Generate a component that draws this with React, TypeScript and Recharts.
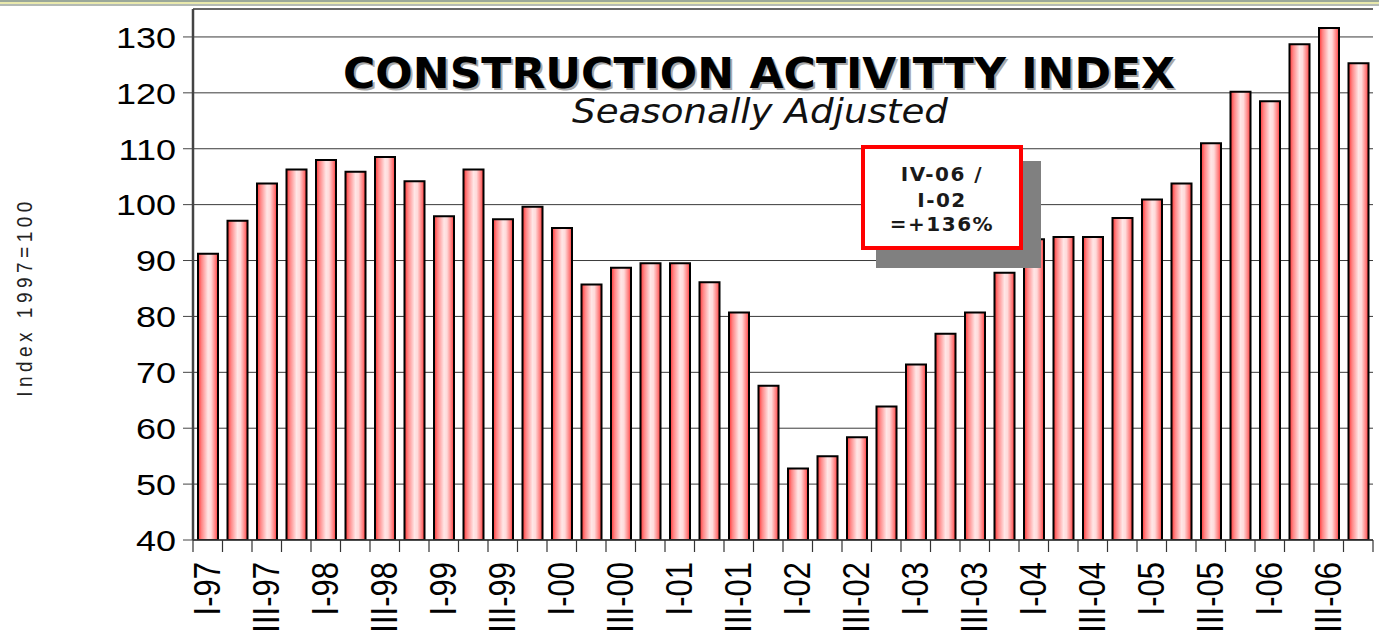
import { Bar, BarChart, CartesianGrid, ReferenceLine, XAxis, YAxis } from 'recharts';

const quarters = [
  'I-97', 'II-97', 'III-97', 'IV-97',
  'I-98', 'II-98', 'III-98', 'IV-98',
  'I-99', 'II-99', 'III-99', 'IV-99',
  'I-00', 'II-00', 'III-00', 'IV-00',
  'I-01', 'II-01', 'III-01', 'IV-01',
  'I-02', 'II-02', 'III-02', 'IV-02',
  'I-03', 'II-03', 'III-03', 'IV-03',
  'I-04', 'II-04', 'III-04', 'IV-04',
  'I-05', 'II-05', 'III-05', 'IV-05',
  'I-06', 'II-06', 'III-06', 'IV-06',
];

const activityIndex = [
  91.2, 97.1, 103.8, 106.3,
  108.0, 105.9, 108.5, 104.2,
  97.9, 106.3, 97.4, 99.6,
  95.8, 85.7, 88.7, 89.5,
  89.5, 86.1, 80.7, 67.6,
  52.8, 55.0, 58.4, 63.9,
  71.4, 76.9, 80.7, 87.8,
  93.8, 94.2, 94.2, 97.6,
  100.9, 103.8, 111.0, 120.2,
  118.5, 128.7, 131.6, 125.3,
];

const yTicks = [40, 50, 60, 70, 80, 90, 100, 110, 120, 130];

const calloutLines = ['IV-06 /', 'I-02', '=+136%'];

const data = quarters.map((quarter, i) => ({ quarter, value: activityIndex[i] }));

const W = 1379;
const H = 639;
const PLOT_LEFT = 193;
const PLOT_RIGHT = 1373;
const HALF_BAND = (PLOT_RIGHT - PLOT_LEFT) / quarters.length / 2;
const SANS = "'Liberation Sans', Arial, sans-serif";
const VERDANA = "'DejaVu Sans', Verdana, sans-serif";

function QuarterTick(props: any) {
  const { x, y, payload, index } = props;
  const q: string = payload.value;
  const showLabel = q.startsWith('I-') || q.startsWith('III-');
  const last = index === quarters.length - 1;
  return (
    <g>
      <line x1={x - HALF_BAND} x2={x - HALF_BAND} y1={y} y2={y + 12} stroke="#333" strokeWidth={1.2} />
      {last && <line x1={x + HALF_BAND} x2={x + HALF_BAND} y1={y} y2={y + 12} stroke="#333" strokeWidth={1.2} />}
      {showLabel && (
        <text
          transform={`translate(${x + 12},${y + 22}) rotate(-90) scale(1,1.2)`}
          textAnchor="end"
          fontSize={31}
          fontFamily={SANS}
          fill="#000"
        >
          {q}
        </text>
      )}
    </g>
  );
}

function IndexTick(props: any) {
  const { x, y, payload } = props;
  return (
    <text
      transform={`translate(${x},${y}) scale(1.2,1)`}
      textAnchor="end"
      dy="0.36em"
      fontSize={30}
      fontFamily={SANS}
      fill="#000"
    >
      {payload.value}
    </text>
  );
}

export default function App() {
  return (
    <div style={{ position: 'absolute', left: 0, top: 0, width: W, height: H, background: '#fff', overflow: 'hidden' }}>
      <div
        style={{
          position: 'absolute',
          left: 0,
          top: 0,
          width: W,
          height: 6,
          background: 'linear-gradient(#9aa79a 0px, #9aa79a 2px, #e9e9ad 2px, #e9e9ad 4px, #b4bab4 4px, #b4bab4 6px)',
        }}
      />
      <BarChart width={W} height={H} data={data} margin={{ top: 9, right: 6, left: 0, bottom: 0 }}>
        <defs>
          <linearGradient id="barFill" x1="0" y1="0" x2="1" y2="0">
            <stop offset="0%" stopColor="#ff3333" />
            <stop offset="18%" stopColor="#ff8585" />
            <stop offset="50%" stopColor="#ffe6e6" />
            <stop offset="65%" stopColor="#ffdada" />
            <stop offset="88%" stopColor="#ff7a7a" />
            <stop offset="100%" stopColor="#ff3333" />
          </linearGradient>
        </defs>
        <CartesianGrid horizontal vertical={false} stroke="#3a3a3a" strokeWidth={1} />
        <ReferenceLine y={135} stroke="#333" strokeWidth={1.2} />
        <XAxis
          dataKey="quarter"
          interval={0}
          tickSize={0}
          tickMargin={0}
          height={99}
          axisLine={{ stroke: '#333', strokeWidth: 1.5 }}
          tickLine={false}
          tick={<QuarterTick />}
        />
        <YAxis
          domain={[40, 135]}
          ticks={yTicks}
          allowDataOverflow
          width={PLOT_LEFT}
          tickSize={10}
          tickMargin={7}
          axisLine={{ stroke: '#444', strokeWidth: 2.5 }}
          tickLine={{ stroke: '#444' }}
          tick={<IndexTick />}
        />
        <YAxis
          yAxisId="frame"
          orientation="right"
          width={0}
          domain={[40, 135]}
          tick={false}
          tickLine={false}
          axisLine={{ stroke: '#555', strokeWidth: 1.2 }}
        />
        <Bar dataKey="value" barSize={20} fill="url(#barFill)" stroke="#000" strokeWidth={2} isAnimationActive={false} />
      </BarChart>
      <svg width={W} height={H} style={{ position: 'absolute', left: 0, top: 0, pointerEvents: 'none' }}>
        <text
          transform="translate(32,297) rotate(-90) scale(1,1.2)"
          textAnchor="middle"
          fontSize={19}
          letterSpacing={4.5}
          fontFamily={SANS}
          fill="#222"
        >
          Index 1997=100
        </text>
        <text x={761} y={90} textAnchor="middle" fontSize={42} fontWeight="bold" fontFamily={VERDANA} fill="#a8a8a8" textLength={832} lengthAdjust="spacingAndGlyphs">
          CONSTRUCTION ACTIVITTY INDEX
        </text>
        <text x={759} y={88} textAnchor="middle" fontSize={42} fontWeight="bold" fontFamily={VERDANA} fill="#000" textLength={832} lengthAdjust="spacingAndGlyphs">
          CONSTRUCTION ACTIVITTY INDEX
        </text>
        <text x={760} y={123} textAnchor="middle" fontSize={34} fontStyle="italic" fontFamily={VERDANA} fill="#111" textLength={376} lengthAdjust="spacingAndGlyphs">
          Seasonally Adjusted
        </text>
        <rect x={876} y={161} width={165} height={107} fill="#808080" />
        <rect x={863} y={147} width={158} height={101} fill="#fff" stroke="#ff0000" strokeWidth={4} />
        {calloutLines.map((line, i) => (
          <text
            key={line}
            x={942}
            y={[181, 207, 231][i]}
            textAnchor="middle"
            fontSize={20}
            fontWeight="bold"
            letterSpacing={1.5}
            fontFamily={VERDANA}
            fill="#1a1a1a"
          >
            {line}
          </text>
        ))}
      </svg>
    </div>
  );
}
